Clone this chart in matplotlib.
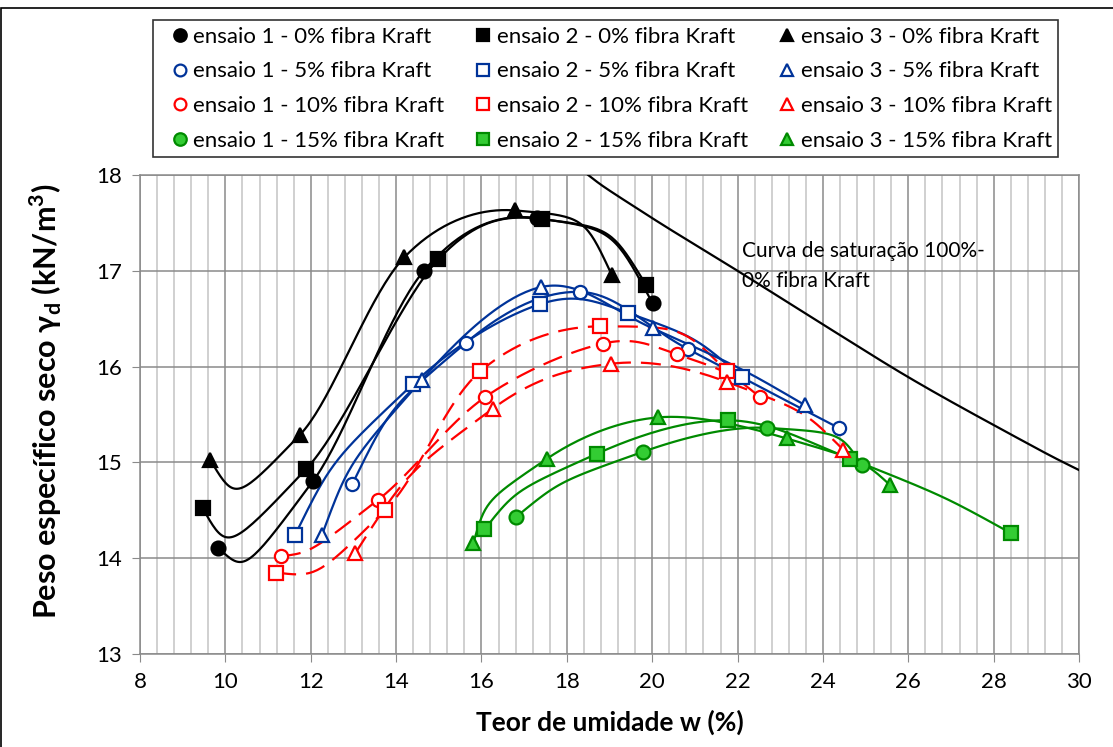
import numpy as np
import matplotlib
matplotlib.use('Agg')
import matplotlib.pyplot as plt
from matplotlib.lines import Line2D
from matplotlib.patches import Rectangle

plt.rcParams['font.family'] = ['Lato', 'DejaVu Sans']

w_e1_0 = [9.83, 12.06, 14.65, 17.29, 20.01]
g_e1_0 = [14.11, 14.81, 17.00, 17.55, 16.66]
w_e2_0 = [9.47, 11.89, 14.99, 17.41, 19.86]
g_e2_0 = [14.52, 14.93, 17.12, 17.54, 16.85]
w_e3_0 = [9.64, 11.75, 14.19, 16.79, 19.05]
g_e3_0 = [15.03, 15.29, 17.14, 17.63, 16.96]

w_e1_5 = [12.97, 15.64, 18.31, 20.85, 24.37]
g_e1_5 = [14.77, 16.25, 16.78, 16.18, 15.36]
w_e2_5 = [11.63, 14.40, 17.36, 19.44, 22.10]
g_e2_5 = [14.24, 15.82, 16.65, 16.56, 15.89]
w_e3_5 = [12.26, 14.60, 17.39, 20.01, 23.57]
g_e3_5 = [14.24, 15.86, 16.83, 16.40, 15.60]

w_e1_10 = [11.30, 13.58, 16.08, 18.84, 20.57, 22.53]
g_e1_10 = [14.02, 14.61, 15.68, 16.24, 16.13, 15.68]
w_e2_10 = [11.19, 13.74, 15.97, 18.78, 21.75]
g_e2_10 = [13.85, 14.50, 15.95, 16.42, 15.95]
w_e3_10 = [13.04, 16.26, 19.04, 21.75, 24.48]
g_e3_10 = [14.05, 15.56, 16.03, 15.84, 15.13]

w_e1_15 = [16.81, 19.78, 22.70, 24.91]
g_e1_15 = [14.43, 15.11, 15.36, 14.97]
w_e2_15 = [16.07, 18.70, 21.78, 24.63, 28.41]
g_e2_15 = [14.30, 15.09, 15.44, 15.04, 14.26]
w_e3_15 = [15.81, 17.54, 20.14, 23.15, 25.58]
g_e3_15 = [14.16, 15.04, 15.47, 15.25, 14.76]

# saturation curve 100% - 0% fibra
w_sat = [18.5, 20.0, 22.0, 24.0, 26.0, 28.0, 30.0]
g_sat = [18.00, 17.55, 17.00, 16.44, 15.89, 15.39, 14.92]


def smooth(x, y, k=1/6., kend=1/3., n=40):
    # bezier smoothing, roughly like Excel's "smoothed line"
    P = np.column_stack([x, y]).astype(float)
    m = len(P)
    if m < 3:
        return P[:, 0], P[:, 1]
    out = []
    t = np.linspace(0, 1, n)[:, None]
    for i in range(m - 1):
        p0, p3 = P[i], P[i + 1]
        first = i == 0
        last = i + 2 == m
        c1 = c2 = None
        if not first:
            c1 = p0 + (P[i + 1] - P[i - 1]) * (kend if last else k)
        if not last:
            c2 = p3 - (P[i + 2] - P[i]) * (kend if first else k)
        if c1 is None:
            c1 = c2
        if c2 is None:
            c2 = c1
        seg = ((1 - t) ** 3) * p0 + 3 * ((1 - t) ** 2) * t * c1 \
            + 3 * (1 - t) * t ** 2 * c2 + t ** 3 * p3
        out.append(seg if i == 0 else seg[1:])
    out = np.vstack(out)
    return out[:, 0], out[:, 1]


blue = '#003399'
red = '#ff0000'
gline = '#008a00'
gfill = '#33cc33'

series = [
    (w_e1_0, g_e1_0, 'ensaio 1 - 0% fibra Kraft', 'o', 'k', 'k', 'k', '-'),
    (w_e1_5, g_e1_5, 'ensaio 1 - 5% fibra Kraft', 'o', blue, 'white', blue, '-'),
    (w_e1_10, g_e1_10, 'ensaio 1 - 10% fibra Kraft', 'o', red, 'white', red, '--'),
    (w_e1_15, g_e1_15, 'ensaio 1 - 15% fibra Kraft', 'o', gline, gfill, gline, '-'),
    (w_e2_0, g_e2_0, 'ensaio 2 - 0% fibra Kraft', 's', 'k', 'k', 'k', '-'),
    (w_e2_5, g_e2_5, 'ensaio 2 - 5% fibra Kraft', 's', blue, 'white', blue, '-'),
    (w_e2_10, g_e2_10, 'ensaio 2 - 10% fibra Kraft', 's', red, 'white', red, '--'),
    (w_e2_15, g_e2_15, 'ensaio 2 - 15% fibra Kraft', 's', gline, gfill, gline, '-'),
    (w_e3_0, g_e3_0, 'ensaio 3 - 0% fibra Kraft', '^', 'k', 'k', 'k', '-'),
    (w_e3_5, g_e3_5, 'ensaio 3 - 5% fibra Kraft', '^', blue, 'white', blue, '-'),
    (w_e3_10, g_e3_10, 'ensaio 3 - 10% fibra Kraft', '^', red, 'white', red, '--'),
    (w_e3_15, g_e3_15, 'ensaio 3 - 15% fibra Kraft', '^', gline, gfill, gline, '-'),
]

fig = plt.figure(figsize=(11.13, 7.47), dpi=100)
ax = fig.add_axes([0.1258, 0.1245, 0.8437, 0.6412])

fs = 16
lw = 1.6
handles = []
for x, y, lab, mk, lc, fc, ec, ls in series:
    xs, ys = smooth(x, y)
    ln, = ax.plot(xs, ys, color=lc, lw=lw, zorder=3)
    if ls == '--':
        ln.set_dashes((9, 4.5))
    ms = 10 if fc != 'white' else 9.5
    ax.plot(x, y, ls='none', marker=mk, ms=ms, mfc=fc, mec=ec, mew=1.6, zorder=4)
    handles.append(Line2D([], [], ls='none', marker=mk, ms=ms - 1, mfc=fc,
                          mec=ec, mew=1.6, label=lab))

xs, ys = smooth(w_sat, g_sat)
ax.plot(xs, ys, color='k', lw=lw, zorder=3)
ax.text(22.1, 17.05, 'Curva de saturação 100%-\n0% fibra Kraft', fontsize=15,
        va='center', ha='left', linespacing=1.6, zorder=5)

ax.set_xlim(8, 30)
ax.set_ylim(13, 18)
ax.set_xticks(np.arange(8, 31, 2))
ax.set_xticks(np.arange(8, 30.01, 0.4), minor=True)
ax.set_yticks(np.arange(13, 19, 1))
ax.grid(which='major', color='#8a8a8a', lw=1.1, zorder=0)
ax.grid(which='minor', axis='x', color='#c4c4c4', lw=1.1, zorder=0)
ax.set_axisbelow(True)
ax.tick_params(which='major', direction='out', length=6, color='#8a8a8a',
               labelsize=fs, pad=7)
ax.tick_params(which='minor', length=0)
for s in ax.spines.values():
    s.set_color('#8a8a8a')
    s.set_linewidth(1.1)

ax.set_xlabel('Teor de umidade w (%)', fontsize=19, fontweight='bold')
ax.set_ylabel(r'Peso específico seco γ$_{\mathregular{d}}$ (kN/m$^{\mathregular{3}}$)',
              fontsize=22, fontweight='bold')
ax.xaxis.set_label_coords(0.5, -0.117)
ax.yaxis.set_label_coords(-0.081, 0.528)

leg = fig.legend(handles=handles, loc='upper left', ncol=3,
                 bbox_to_anchor=(153 / 1113, 1 - 20 / 747), borderaxespad=0,
                 fontsize=fs, frameon=True, fancybox=False, edgecolor='k',
                 handlelength=1.8, handletextpad=-0.3, columnspacing=0.87,
                 labelspacing=0.66, borderpad=0.3)
leg.get_frame().set_linewidth(1.2)

fig.patches.append(Rectangle((1 / 1113, -0.1), 1.2, 1.1 - 8 / 747,
                             transform=fig.transFigure, fill=False,
                             edgecolor='k', lw=1.2))

fig.savefig('out.png', dpi=100)
